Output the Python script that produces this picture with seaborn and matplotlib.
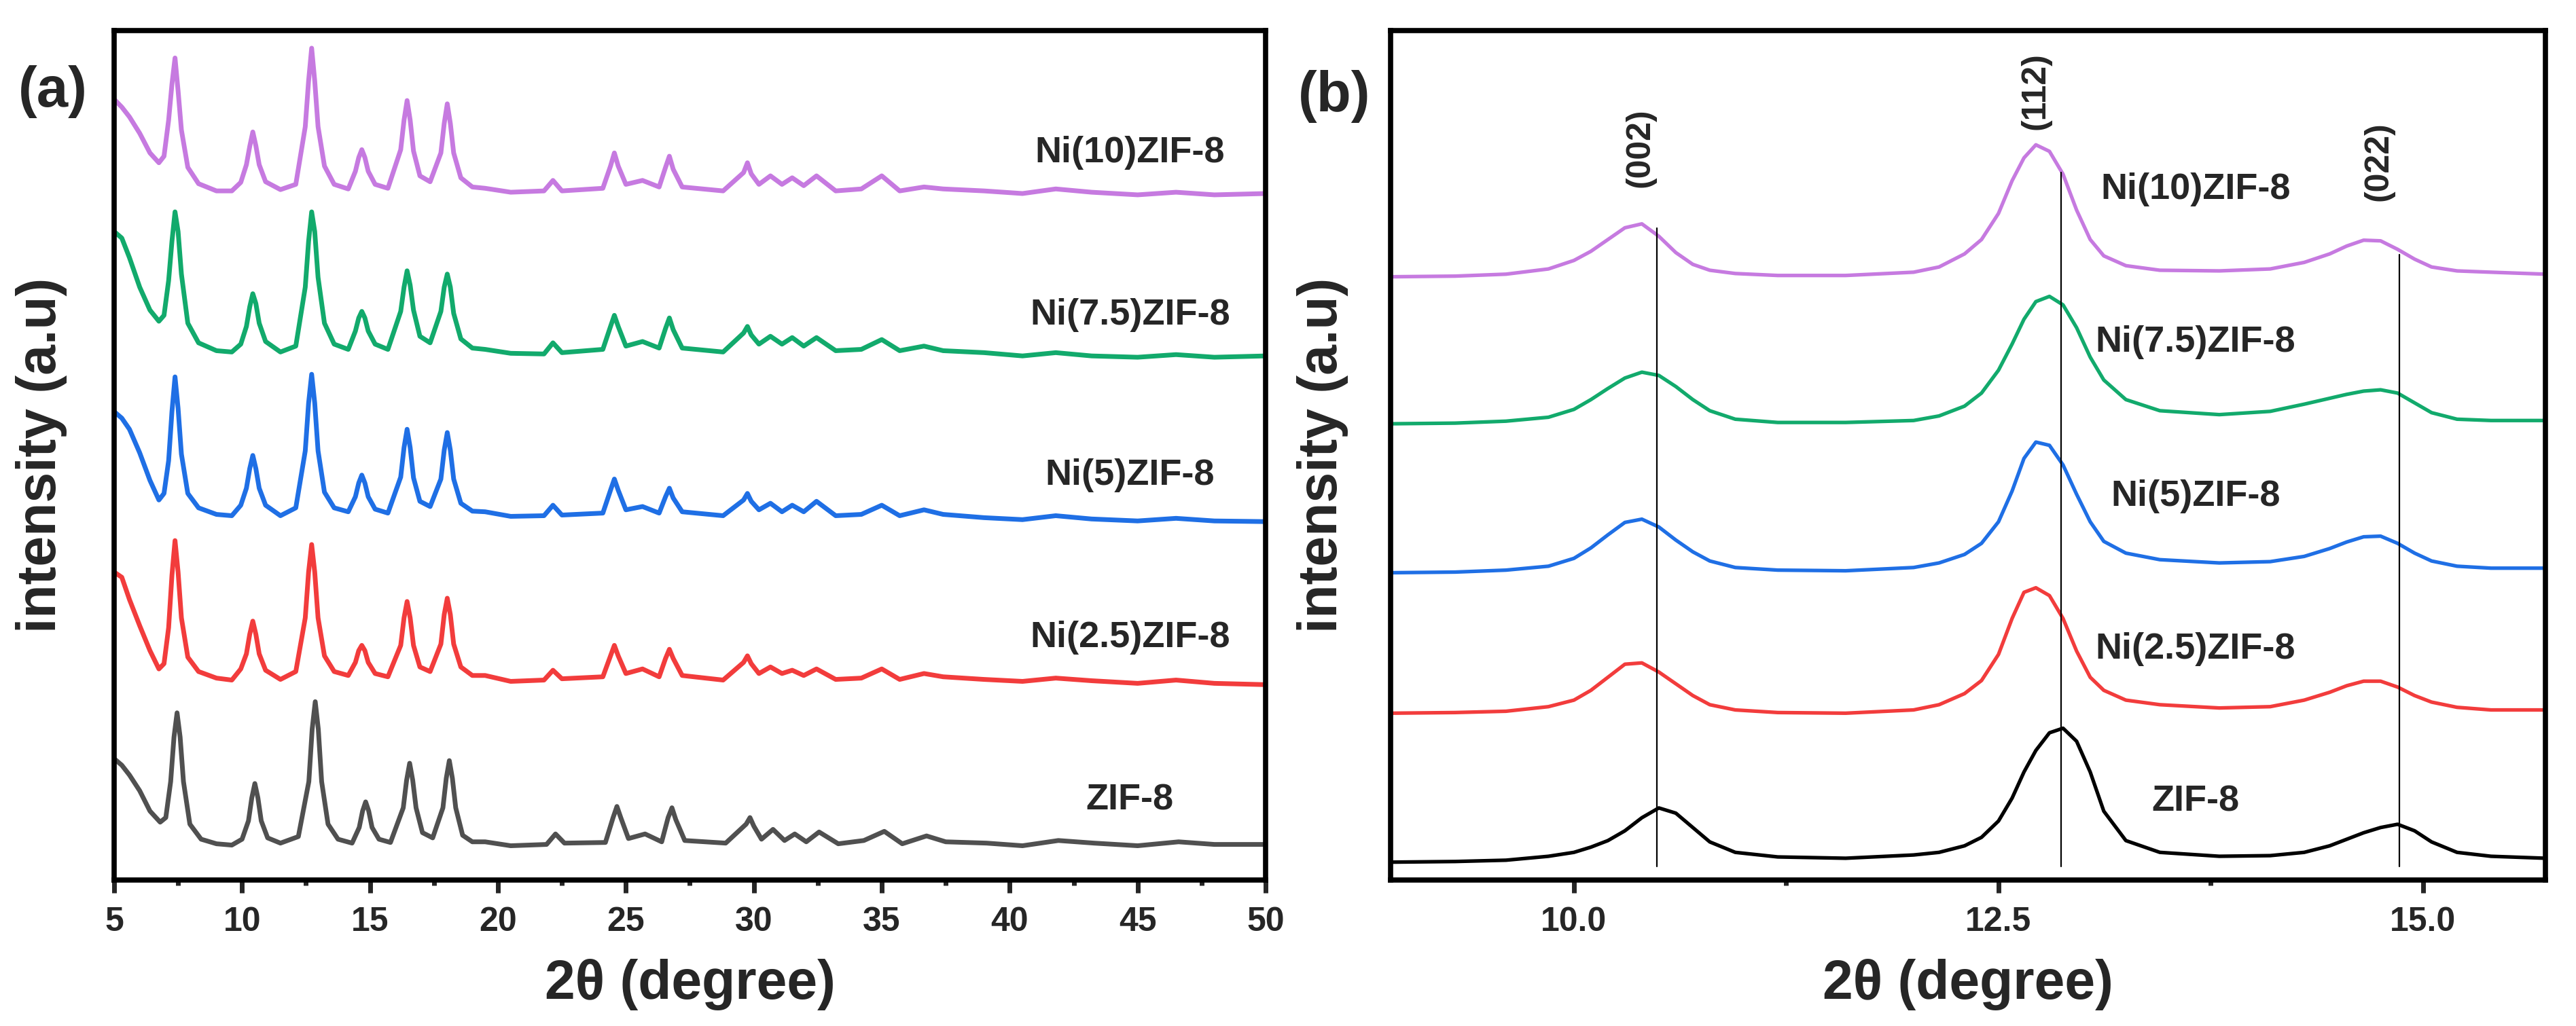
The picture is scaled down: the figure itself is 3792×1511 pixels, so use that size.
import numpy as np
import matplotlib
matplotlib.use("Agg")
import matplotlib.pyplot as plt
import seaborn as sns
from matplotlib.ticker import MultipleLocator

# XRD patterns of ZIF-8 and Ni doped ZIF-8, stacked with offsets (a.u.)

# (a) full range 5-50 deg, Ni samples share one 2theta grid
two_theta_ni = [5.0, 5.3, 5.6, 6.0, 6.4, 6.75, 6.95, 7.13, 7.26, 7.38, 7.5, 7.63, 7.88, 8.3,
                9.0, 9.6, 9.95, 10.17, 10.3, 10.42, 10.54, 10.67, 10.92, 11.5, 12.1, 12.47,
                12.6, 12.72, 12.84, 12.97, 13.22, 13.6, 14.15, 14.43, 14.56, 14.68, 14.8,
                14.93, 15.2, 15.7, 16.2, 16.33, 16.45, 16.57, 16.7, 16.95, 17.35, 17.77,
                17.9, 18.02, 18.14, 18.27, 18.55, 19.0, 19.5, 20.5, 21.8, 22.15, 22.5, 24.1,
                24.4, 24.55, 24.7, 25.0, 25.65, 26.3, 26.55, 26.7, 26.85, 27.2, 28.8, 29.6,
                29.75, 29.9, 30.2, 30.65, 31.1, 31.5, 31.95, 32.45, 33.2, 34.2, 35.0, 35.7,
                36.65, 37.4, 39.0, 40.5, 41.8, 43.2, 45.0, 46.5, 48.0, 50.0]

# ZIF-8 reflections sit slightly higher in angle
two_theta_zif = [5.0, 5.3, 5.6, 6.0, 6.4, 6.8, 7.02, 7.21, 7.34, 7.46, 7.58, 7.71, 7.96, 8.4,
                 9.0, 9.6, 10.0, 10.25, 10.38, 10.5, 10.62, 10.75, 11.0, 11.5, 12.2, 12.61,
                 12.74, 12.86, 12.98, 13.11, 13.36, 13.75, 14.3, 14.58, 14.71, 14.83, 14.95,
                 15.08, 15.35, 15.8, 16.3, 16.43, 16.55, 16.67, 16.8, 17.05, 17.45, 17.85,
                 17.98, 18.1, 18.22, 18.35, 18.62, 19.0, 19.5, 20.5, 21.9, 22.25, 22.6, 24.2,
                 24.5, 24.65, 24.8, 25.1, 25.75, 26.4, 26.65, 26.8, 26.95, 27.3, 28.9, 29.7,
                 29.85, 30.0, 30.3, 30.75, 31.2, 31.6, 32.05, 32.55, 33.3, 34.3, 35.1, 35.8,
                 36.75, 37.5, 39.1, 40.5, 41.9, 43.3, 45.0, 46.6, 48.0, 50.0]

zif8_a = [185, 175, 160, 136, 105, 88, 95, 150, 218, 255, 218, 150, 85, 62,
          55, 53, 62, 90, 125, 147, 125, 90, 64, 56, 66, 150,
          230, 272, 230, 150, 85, 62, 56, 80, 105, 119, 105,
          80, 62, 57, 110, 152, 178, 152, 110, 72, 64, 110,
          155, 182, 155, 110, 68, 58, 58, 52, 54, 70, 56, 57,
          95, 112, 95, 63, 70, 58, 95, 110, 92, 60, 56, 85,
          95, 82, 62, 77, 60, 70, 58, 73, 55, 60, 74, 55,
          67, 58, 56, 52, 60, 56, 52, 58, 54, 54]

ni25_a = [470, 462, 428, 388, 350, 322, 330, 385, 465, 518, 470, 400, 340, 318,
          308, 305, 322, 345, 375, 395, 375, 345, 320, 306, 318, 400,
          470, 512, 470, 400, 342, 318, 312, 332, 350, 358, 350,
          332, 315, 310, 358, 400, 425, 400, 358, 325, 318, 360,
          405, 430, 405, 360, 325, 312, 312, 303, 305, 320, 307, 310,
          342, 358, 342, 315, 322, 310, 338, 352, 338, 312, 305, 332,
          342, 330, 315, 325, 315, 320, 312, 322, 306, 308, 322, 306,
          315, 310, 306, 303, 308, 304, 300, 305, 300, 298]

ni5_a = [715, 705, 688, 652, 610, 580, 590, 640, 715, 768, 720, 650, 590, 568,
         558, 556, 572, 598, 628, 648, 628, 598, 572, 556, 568, 655,
         728, 772, 728, 655, 592, 568, 562, 585, 606, 618, 606,
         585, 566, 560, 615, 660, 688, 660, 614, 578, 570, 612,
         656, 683, 656, 612, 575, 563, 562, 555, 556, 572, 557, 560,
         595, 612, 595, 565, 570, 560, 585, 598, 583, 562, 556, 580,
         590, 578, 565, 575, 562, 572, 562, 578, 556, 558, 572, 556,
         565, 558, 553, 550, 556, 551, 548, 552, 548, 547]

ni75_a = [990, 980, 950, 905, 870, 853, 862, 915, 975, 1020, 990, 925, 850, 820,
          808, 806, 818, 845, 875, 895, 880, 850, 822, 806, 815, 905,
          975, 1020, 990, 920, 850, 818, 810, 838, 858, 868, 858,
          838, 818, 810, 868, 905, 930, 908, 870, 830, 820, 868,
          905, 925, 905, 865, 826, 812, 810, 804, 803, 820, 805, 810,
          845, 862, 845, 815, 822, 812, 842, 858, 840, 812, 806, 835,
          845, 832, 818, 830, 818, 828, 815, 828, 808, 810, 825, 808,
          815, 808, 805, 800, 805, 800, 798, 802, 798, 800]

ni10_a = [1192, 1180, 1165, 1140, 1110, 1095, 1105, 1160, 1215, 1255, 1205, 1145, 1088, 1063,
          1052, 1052, 1065, 1092, 1120, 1142, 1121, 1092, 1066, 1054, 1062, 1150,
          1220, 1270, 1220, 1150, 1090, 1062, 1055, 1082, 1103, 1115, 1103,
          1082, 1062, 1056, 1115, 1160, 1190, 1160, 1113, 1075, 1066, 1110,
          1155, 1185, 1155, 1110, 1072, 1058, 1056, 1050, 1052, 1068, 1052, 1056,
          1090, 1110, 1090, 1062, 1068, 1058, 1088, 1105, 1085, 1058, 1052, 1080,
          1095, 1078, 1062, 1075, 1062, 1072, 1060, 1075, 1052, 1055, 1075, 1052,
          1058, 1055, 1052, 1048, 1055, 1050, 1046, 1050, 1046, 1048]

# (b) zoom on the three low-angle reflections
two_theta_b = [8.92, 9.3, 9.6, 9.85, 10.0, 10.1, 10.2, 10.3, 10.4, 10.5, 10.6, 10.7, 10.8,
               10.95, 11.2, 11.6, 12.0, 12.15, 12.3, 12.4, 12.5, 12.58, 12.65, 12.72, 12.8,
               12.88, 12.96, 13.04, 13.12, 13.25, 13.45, 13.8, 14.1, 14.3, 14.45, 14.55,
               14.65, 14.75, 14.85, 14.95, 15.05, 15.2, 15.4, 15.72]

zif8_b = [27, 28, 30, 36, 42, 50, 60, 75, 95, 110, 102, 80, 58,
          42, 35, 33, 38, 42, 52, 65, 90, 125, 165, 198, 225,
          232, 212, 165, 105, 60, 42, 36, 37, 42, 52, 62,
          72, 80, 85, 75, 58, 42, 36, 33]
ni25_b = [255, 256, 258, 265, 275, 290, 310, 330, 332, 318, 300, 282, 268,
          260, 256, 255, 260, 268, 285, 305, 345, 400, 440, 447, 435,
          400, 350, 310, 290, 275, 268, 263, 265, 275, 287, 297,
          304, 304, 295, 282, 272, 264, 260, 260]
ni5_b = [470, 471, 474, 480, 492, 508, 528, 547, 552, 540, 520, 502, 488,
         478, 474, 473, 478, 485, 498, 515, 548, 595, 645, 670, 665,
         635, 590, 548, 518, 500, 490, 485, 487, 495, 507, 517,
         525, 526, 515, 500, 488, 480, 477, 477]
ni75_b = [698, 699, 702, 708, 720, 735, 752, 768, 777, 772, 755, 735, 718,
          705, 700, 700, 703, 710, 725, 745, 780, 820, 858, 885, 893,
          880, 845, 800, 765, 735, 718, 712, 717, 728, 737, 743,
          748, 750, 745, 730, 715, 705, 703, 703]
ni10_b = [923, 924, 927, 935, 948, 962, 980, 998, 1004, 985, 960, 942, 933,
          928, 925, 925, 930, 938, 958, 980, 1020, 1070, 1105, 1125, 1115,
          1080, 1025, 980, 955, 940, 933, 932, 935, 945, 958, 970,
          979, 978, 965, 950, 938, 932, 930, 927]

labels = ["ZIF-8", "Ni(2.5)ZIF-8", "Ni(5)ZIF-8", "Ni(7.5)ZIF-8", "Ni(10)ZIF-8"]
colors_a = ["#505050", "#f23c3c", "#1f6fe5", "#12aa6c", "#c67ae0"]
colors_b = ["#000000", "#f23c3c", "#1f6fe5", "#12aa6c", "#c67ae0"]
label_y_a = [122, 370, 618, 862, 1110]
label_y_b = [120, 353, 587, 823, 1057]

# reference lines (ZIF-8 reflections) in panel b
hkl = ["(002)", "(112)", "(022)"]
hkl_pos = [10.49, 12.87, 14.86]
hkl_line_top = [997, 1083, 957]
hkl_text_x = [10.39, 12.72, 14.74]
hkl_text_y = [1120, 1207, 1100]

sns.set_style("white")
plt.rcParams["font.family"] = ["Liberation Sans", "DejaVu Sans"]
plt.rcParams["font.weight"] = "bold"

fig = plt.figure(figsize=(37.92, 15.11), dpi=100)
ax1 = fig.add_axes([0.0443, 0.1425, 0.4470, 0.8278])
ax2 = fig.add_axes([0.5398, 0.1425, 0.4483, 0.8278])

series_a = [(two_theta_zif, zif8_a), (two_theta_ni, ni25_a), (two_theta_ni, ni5_a),
            (two_theta_ni, ni75_a), (two_theta_ni, ni10_a)]
series_b = [zif8_b, ni25_b, ni5_b, ni75_b, ni10_b]

for (xs, ys), c in zip(series_a, colors_a):
    sns.lineplot(x=xs, y=ys, color=c, lw=5, ax=ax1)
for ys, c in zip(series_b, colors_b):
    sns.lineplot(x=two_theta_b, y=ys, color=c, lw=3.8, ax=ax2)

for lab, yy in zip(labels, label_y_a):
    ax1.text(44.7, yy, lab, ha="center", va="center", fontsize=39, fontweight="bold")
for lab, yy in zip(labels, label_y_b):
    ax2.text(13.66, yy, lab, ha="center", va="center", fontsize=39, fontweight="bold")

for p, top in zip(hkl_pos, hkl_line_top):
    ax2.plot([p, p], [20, top], color="black", lw=1.6)
for t, tx, ty in zip(hkl, hkl_text_x, hkl_text_y):
    ax2.text(tx, ty, t, rotation=90, ha="center", va="center", fontsize=36, fontweight="bold")

ax1.set_xlim(5, 50)
ax1.set_ylim(0, 1297)
ax1.xaxis.set_major_locator(MultipleLocator(5))
ax1.xaxis.set_minor_locator(MultipleLocator(2.5))

ax2.set_xlim(8.92, 15.72)
ax2.set_ylim(0, 1300)
ax2.xaxis.set_major_locator(MultipleLocator(2.5))
ax2.xaxis.set_minor_locator(MultipleLocator(1.25))
ax2.xaxis.set_major_formatter(plt.FormatStrFormatter("%.1f"))

for ax, ylab_x in [(ax1, -0.063), (ax2, -0.059)]:
    ax.set_yticks([])
    for s in ax.spines.values():
        s.set_visible(True)
        s.set_color("black")
        s.set_linewidth(5.5)
    ax.tick_params(axis="x", which="major", direction="out", length=14, width=5,
                   pad=14, labelsize=36, bottom=True, top=False)
    ax.tick_params(axis="x", which="minor", direction="out", length=6, width=5,
                   bottom=True, top=False)
    ax.set_xlabel("2θ (degree)", fontsize=58, fontweight="bold")
    ax.set_ylabel("intensity (a.u)", fontsize=58, fontweight="bold")
    ax.xaxis.label.set_va("center")
    ax.yaxis.label.set_va("center")
    ax.xaxis.set_label_coords(0.5, -0.123)
    ax.yaxis.set_label_coords(ylab_x, 0.5)
    for tl in ax.get_xticklabels():
        tl.set_fontweight("bold")

fig.text(0.0206, 0.9107, "(a)", ha="center", va="center", fontsize=60, fontweight="bold")
fig.text(0.518, 0.906, "(b)", ha="center", va="center", fontsize=60, fontweight="bold")

fig.savefig("out.png", dpi=100, facecolor="white")
